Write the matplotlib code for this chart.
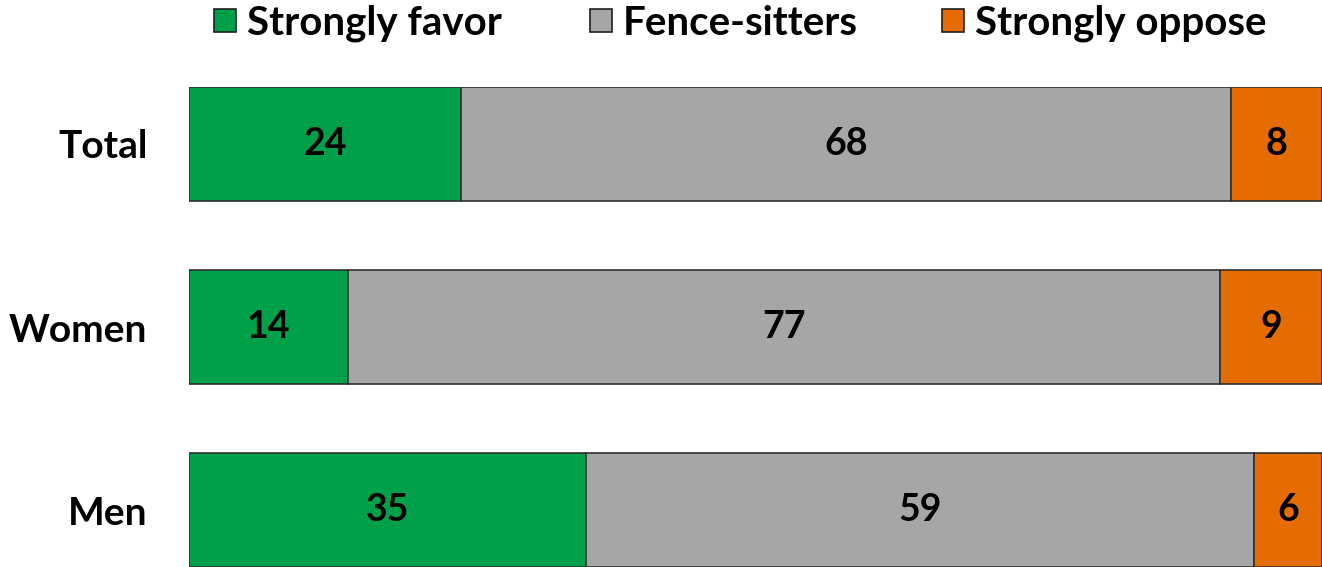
import matplotlib
matplotlib.use("Agg")
import matplotlib.pyplot as plt
from matplotlib.patches import Rectangle

categories = ["Total", "Women", "Men"]
series_names = ["Strongly favor", "Fence-sitters", "Strongly oppose"]
strongly_favor = [24, 14, 35]
fence_sitters = [68, 77, 59]
strongly_oppose = [8, 9, 6]
colors = ["#00A04A", "#A6A6A6", "#E46C00"]

W, H = 1322, 567
plt.rcParams['font.family'] = ['Lato', 'DejaVu Sans']
fig = plt.figure(figsize=(W/100, H/100), dpi=100)
ax = fig.add_axes([189/W, 0, 1133/W, 480/H])

ypos = list(range(len(categories)))
left = [0]*len(categories)
for vals, col in zip([strongly_favor, fence_sitters, strongly_oppose], colors):
    ax.barh(ypos, vals, left=left, height=0.623, color=col, edgecolor="#303030", linewidth=1.2)
    for y, l, v in zip(ypos, left, vals):
        ax.text(l + v/2, y, str(v), ha="center", va="center", fontsize=27, fontweight="bold", color="black")
    left = [l + v for l, v in zip(left, vals)]

ax.set_xlim(0, 100)
ax.set_ylim(2.311, -0.311)
ax.set_yticks(ypos)
ax.set_yticklabels(categories, fontsize=28, fontweight="bold")
ax.tick_params(axis="y", length=0, pad=30)
ax.set_xticks([])
for s in ax.spines.values():
    s.set_visible(False)

# legend, laid out in figure pixel coordinates
square_x = [214, 590, 942]
for sx, col, name in zip(square_x, colors, series_names):
    fig.patches.append(Rectangle((sx/W, 1 - 32/H), 22/W, 23/H, transform=fig.transFigure,
                                 facecolor=col, edgecolor="#202020", linewidth=1.2))
    fig.text((sx + 33)/W, 1 - 20/H, name, ha="left", va="center_baseline",
             fontsize=29, fontweight="bold")

fig.savefig("out.png", dpi=100)
